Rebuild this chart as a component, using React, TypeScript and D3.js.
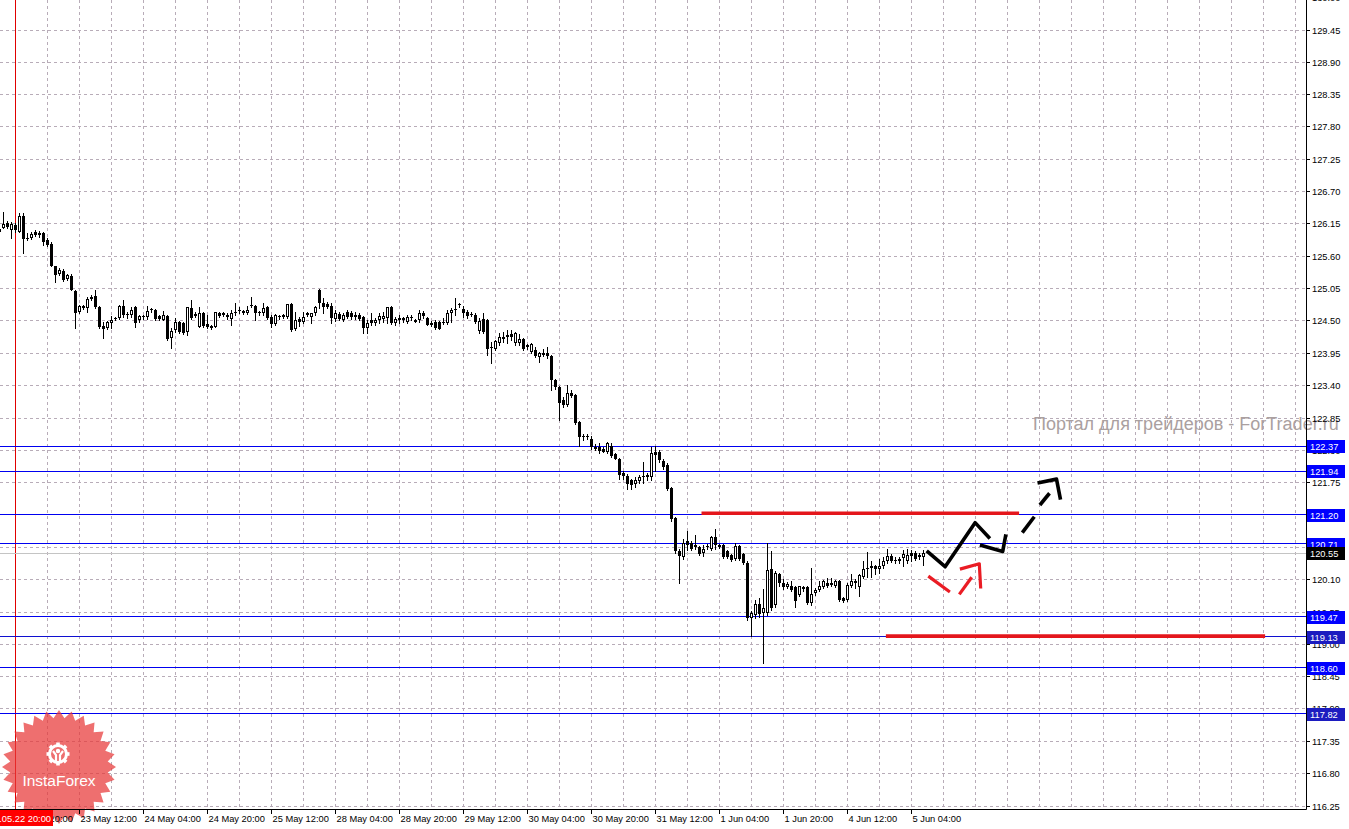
import React from "react";
import * as d3 from "d3";

// ---------- DATA (H1 candles, bar index 0 = first visible bar) ----------
const opens = [
126.07,126.09,126.17,126.05,126.13,126.02,126.29,125.92,125.91,126.01,
126.00,125.99,125.88,125.81,125.43,125.30,125.35,125.21,125.27,125.01,
124.66,124.75,124.72,124.87,124.93,124.74,124.41,124.38,124.47,124.55,
124.55,124.76,124.62,124.60,124.73,124.52,124.59,124.56,124.70,124.68,
124.59,124.52,124.59,124.21,124.35,124.48,124.46,124.32,124.72,124.62,
124.40,124.64,124.45,124.42,124.40,124.63,124.63,124.61,124.54,124.65,
124.69,124.67,124.64,124.77,124.76,124.65,124.63,124.74,124.56,124.45,
124.59,124.60,124.56,124.79,124.36,124.53,124.49,124.63,124.57,124.63,
125.03,124.81,124.79,124.76,124.53,124.62,124.52,124.65,124.63,124.61,
124.61,124.56,124.38,124.51,124.46,124.52,124.54,124.55,124.73,124.46,
124.55,124.55,124.49,124.57,124.52,124.51,124.64,124.55,124.47,124.49,
124.48,124.46,124.46,124.63,124.70,124.79,124.71,124.66,124.62,124.60,
124.33,124.53,124.52,124.06,124.03,124.13,124.20,124.26,124.28,124.12,
124.12,124.20,124.09,123.98,124.01,123.88,123.96,123.95,123.90,123.50,
123.37,123.15,123.07,123.28,123.24,122.79,122.55,122.55,122.50,122.33,
122.35,122.33,122.28,122.38,122.24,122.15,121.92,121.87,121.80,121.73,
121.77,121.86,121.84,121.85,122.28,122.28,122.12,122.05,121.66,121.15,
120.59,120.48,120.75,120.73,120.69,120.66,120.55,120.67,120.63,120.83,
120.69,120.69,120.58,120.52,120.46,120.67,120.54,120.39,119.44,119.50,
119.69,119.53,119.53,120.28,119.67,120.19,120.04,119.98,119.99,119.97,
119.84,119.97,119.97,119.71,119.87,119.92,119.97,120.05,120.04,120.00,
120.07,119.78,119.76,120.00,120.07,119.98,120.15,120.29,120.29,120.33,
120.28,120.33,120.42,120.50,120.44,120.41,120.47,120.41,120.55,120.56,
120.52,120.48];
const highs = [
126.16,126.36,126.20,126.19,126.17,126.33,126.33,125.99,126.02,126.04,
126.03,126.02,125.91,125.85,125.44,125.40,125.38,125.30,125.30,125.02,
124.78,124.78,124.90,124.94,125.02,124.76,124.49,124.50,124.59,124.57,
124.77,124.86,124.66,124.73,124.75,124.61,124.61,124.76,124.72,124.70,
124.61,124.67,124.60,124.38,124.55,124.50,124.48,124.74,124.86,124.65,
124.73,124.66,124.60,124.44,124.66,124.66,124.65,124.63,124.68,124.80,
124.73,124.69,124.76,124.90,124.77,124.67,124.80,124.76,124.61,124.62,
124.61,124.62,124.79,124.80,124.66,124.56,124.66,124.65,124.64,124.75,
125.05,124.89,124.82,124.81,124.69,124.65,124.64,124.68,124.67,124.65,
124.63,124.58,124.51,124.63,124.55,124.64,124.65,124.74,124.75,124.56,
124.61,124.57,124.61,124.60,124.54,124.69,124.67,124.57,124.50,124.51,
124.50,124.55,124.69,124.72,124.89,124.81,124.75,124.68,124.65,124.63,
124.55,124.64,124.54,124.15,124.18,124.29,124.32,124.35,124.35,124.31,
124.28,124.21,124.11,124.13,124.06,123.98,124.03,124.06,123.93,123.52,
123.40,123.20,123.41,123.33,123.25,122.80,122.57,122.58,122.55,122.40,
122.42,122.36,122.44,122.42,122.26,122.17,121.95,121.90,121.82,121.85,
121.88,122.11,121.92,122.36,122.37,122.30,122.15,122.08,121.67,121.16,
120.62,120.80,120.92,120.75,120.86,120.68,120.69,120.70,120.84,120.96,
120.71,120.71,120.60,120.54,120.72,120.69,120.56,120.41,119.57,119.75,
119.78,119.94,120.73,120.58,120.24,120.22,120.11,120.06,120.07,119.99,
120.00,120.00,120.00,120.29,119.96,120.07,120.09,120.12,120.12,120.10,
120.09,119.80,120.05,120.19,120.11,120.19,120.42,120.57,120.41,120.35,
120.46,120.49,120.62,120.53,120.48,120.49,120.60,120.63,120.60,120.59,
120.55,120.60];
const lows = [
125.87,126.08,126.08,125.92,126.02,126.01,125.65,125.88,125.89,125.95,
125.93,125.79,125.77,125.44,125.17,125.28,125.18,125.19,125.02,124.38,
124.64,124.70,124.65,124.86,124.72,124.38,124.21,124.36,124.38,124.51,
124.53,124.57,124.55,124.57,124.39,124.49,124.54,124.54,124.66,124.52,
124.51,124.51,124.18,124.04,124.32,124.29,124.28,124.26,124.53,124.56,
124.39,124.40,124.38,124.36,124.39,124.57,124.58,124.54,124.44,124.60,
124.63,124.62,124.62,124.74,124.51,124.61,124.60,124.53,124.39,124.43,
124.54,124.55,124.55,124.33,124.35,124.42,124.47,124.58,124.47,124.60,
124.72,124.63,124.72,124.47,124.50,124.51,124.50,124.55,124.54,124.53,
124.52,124.29,124.30,124.44,124.43,124.47,124.48,124.46,124.45,124.44,
124.47,124.48,124.46,124.52,124.48,124.49,124.55,124.43,124.41,124.37,
124.36,124.45,124.45,124.49,124.60,124.73,124.57,124.55,124.58,124.47,
124.30,124.30,123.92,123.79,124.01,124.10,124.15,124.12,124.18,124.10,
124.10,124.01,124.02,123.95,123.88,123.81,123.90,123.87,123.33,123.35,
122.82,123.04,123.05,123.20,122.75,122.38,122.48,122.50,122.33,122.30,
122.25,122.27,122.26,122.19,122.15,121.82,121.82,121.64,121.64,121.68,
121.74,121.74,121.80,121.80,121.94,122.10,121.99,121.63,121.10,120.55,
120.05,120.45,120.60,120.60,120.62,120.52,120.50,120.62,120.60,120.62,
120.64,120.47,120.47,120.42,120.44,120.44,120.37,119.42,119.14,119.44,
119.46,118.69,119.50,119.58,119.64,120.00,119.94,119.95,119.90,119.63,
119.82,119.90,119.69,119.67,119.84,119.90,119.95,119.97,119.99,119.98,
119.74,119.72,119.74,119.98,119.95,119.82,120.13,120.15,120.15,120.19,
120.22,120.29,120.38,120.40,120.38,120.38,120.33,120.39,120.41,120.43,
120.45,120.35];
const closes = [
126.02,126.15,126.10,126.15,126.04,126.29,125.89,125.90,125.98,125.97,
125.96,125.85,125.80,125.44,125.28,125.37,125.20,125.28,125.02,124.64,
124.76,124.72,124.87,124.91,124.73,124.40,124.36,124.48,124.52,124.53,
124.75,124.60,124.61,124.68,124.47,124.59,124.56,124.67,124.68,124.54,
124.53,124.60,124.19,124.33,124.49,124.31,124.30,124.73,124.55,124.59,
124.63,124.42,124.39,124.38,124.65,124.59,124.60,124.56,124.63,124.63,
124.68,124.64,124.69,124.76,124.64,124.63,124.72,124.55,124.45,124.60,
124.56,124.57,124.79,124.35,124.52,124.49,124.57,124.60,124.63,124.73,
124.80,124.74,124.74,124.55,124.63,124.53,124.60,124.57,124.57,124.57,
124.54,124.38,124.46,124.46,124.52,124.59,124.58,124.73,124.47,124.53,
124.51,124.51,124.57,124.55,124.49,124.63,124.58,124.44,124.43,124.38,
124.37,124.49,124.63,124.69,124.69,124.77,124.63,124.59,124.60,124.49,
124.50,124.32,124.03,124.04,124.16,124.22,124.23,124.22,124.23,124.29,
124.20,124.03,124.05,124.11,123.90,123.96,123.92,123.90,123.50,123.37,
123.10,123.07,123.27,123.23,122.76,122.52,122.52,122.53,122.36,122.36,
122.29,122.28,122.42,122.21,122.16,121.88,121.86,121.73,121.71,121.80,
121.85,121.84,121.88,122.26,122.22,122.14,122.01,121.65,121.14,120.58,
120.50,120.72,120.69,120.62,120.65,120.54,120.62,120.65,120.83,120.69,
120.66,120.49,120.49,120.44,120.67,120.46,120.39,119.44,119.54,119.69,
119.51,119.61,120.27,119.61,120.21,120.04,119.97,120.03,119.92,119.74,
119.99,119.94,119.71,119.86,119.93,119.99,120.07,120.00,120.01,120.07,
119.76,119.74,120.01,120.07,120.05,120.18,120.28,120.28,120.33,120.28,
120.33,120.42,120.50,120.42,120.41,120.46,120.53,120.52,120.50,120.46,
120.49,120.55];

const priceTicks = ["116.25","116.80","117.35","117.90","118.45","119.00","119.55","120.10","120.65","121.20","121.75","122.30","122.85","123.40","123.95","124.50","125.05","125.60","126.15","126.70","127.25","127.80","128.35","128.90","129.45","130.00"];
const timeLabels = ["22 May 20:00","23 May 12:00","24 May 04:00","24 May 20:00","25 May 12:00","28 May 04:00","28 May 20:00","29 May 12:00","30 May 04:00","30 May 20:00","31 May 12:00","1 Jun 04:00","1 Jun 20:00","4 Jun 12:00","5 Jun 04:00"];
const timeLabelBars = [4,20,36,52,68,84,100,116,132,148,164,180,196,212,228];

const levelPrices = [122.37,121.94,121.20,120.71,119.47,119.13,118.60,117.82];
const levelBoxColors = ["#0000ff","#0000ff","#0000ff","#0000ff","#0000ff","#1c1cc0","#0000ff","#1c1cc0"];
const bidPrice = 120.55;

// hand-drawn annotations, as [bar index, price]
const redLevels = [ { from: 175.5, to: 254.9, price: 121.23 }, { from: 221.6, to: 316.4, price: 119.14 } ];
const blackStrokes = [
  [[231.8,120.59],[236.4,120.32],[243.9,121.07],[247.6,120.80]],
  [[245.1,120.69],[250.8,120.58],[251.6,120.87]],
  [[255.7,120.90],[258.7,121.17]],
  [[260.1,121.37],[262.5,121.57]],
  [[259.5,121.745],[264.25,121.81],[265.25,121.46]],
];
const redStrokes = [
  [[232.2,120.16],[237.6,119.89]],
  [[239.95,119.85],[243.05,120.14]],
  [[240.1,120.28],[244.95,120.37],[245.3,119.95]],
];

const W = 1349, H = 829;
const PR = 1306, PB = 809;

function Logo() {
  const cx = 59, cy = 767, n = 28, ro = 57, ri = 49;
  const pts: string[] = [];
  for (let k = 0; k < n * 2; k++) {
    const a = (Math.PI * k) / n - Math.PI / 2;
    const r = k % 2 === 0 ? ro : ri;
    pts.push(`${cx + r * Math.cos(a)},${cy + r * Math.sin(a)}`);
  }
  const gx = 58, gy = 754;
  const teeth: JSX.Element[] = [];
  for (let k = 0; k < 8; k++) {
    const a = (k * 45 * Math.PI) / 180;
    teeth.push(<rect key={k} x={gx - 1.8} y={gy - 11.5} width={3.6} height={4} fill="#fff" transform={`rotate(${k * 45} ${gx} ${gy})`} />);
  }
  return (
    <g>
      <polygon points={pts.join(" ")} fill="rgb(232,56,56)" opacity={0.72} />
      <g>
        {teeth}
        <circle cx={gx} cy={gy} r={8.5} fill="none" stroke="#fff" strokeWidth={3} />
        <circle cx={gx} cy={gy - 3} r={2.2} fill="#fff" />
        <path d={`M${gx - 5},${gy - 3} L${gx - 2},${gy + 1} L${gx - 2},${gy + 9} M${gx + 5},${gy - 3} L${gx + 2},${gy + 1} L${gx + 2},${gy + 9}`} stroke="#fff" strokeWidth={2.2} fill="none" />
      </g>
      <text x={cx} y={786} textAnchor="middle" fontFamily="Liberation Sans, Arial, sans-serif" fontSize={15.5} fill="#fff">InstaForex</text>
    </g>
  );
}

export default function App() {
  const y = d3.scaleLinear().domain([116.25, 129.45]).range([806, 30]);
  const x = d3.scaleLinear().domain([0, 1]).range([-0.5, 3.5]);
  const crisp = (v: number) => Math.floor(v) + 0.5;
  const line = d3.line<number[]>().x(d => x(d[0])).y(d => y(d[1]));

  const vGrid = d3.range(4, 330, 8).filter(b => x(b) < PR);
  const font = "Liberation Sans, Arial, sans-serif";

  return (
    <svg width={W} height={H} style={{ position: "absolute", left: 0, top: 0, background: "#fff" }}>
      <rect x={0} y={0} width={W} height={H} fill="#fff" />
      {/* grid */}
      <g stroke="#b8acb8" strokeWidth={1} strokeDasharray="3,3">
        {priceTicks.map(t => {
          const yy = crisp(y(+t));
          return yy > 0 && yy < PB ? <line key={t} x1={0} x2={PR} y1={yy} y2={yy} /> : null;
        })}
        {vGrid.map(b => <line key={b} x1={x(b)} x2={x(b)} y1={0} y2={PB} />)}
      </g>
      {/* period separator */}
      <line x1={x(4)} x2={x(4)} y1={0} y2={PB} stroke="#e00000" strokeWidth={1} />
      {/* bid line */}
      <line x1={0} x2={PR} y1={crisp(y(bidPrice))} y2={crisp(y(bidPrice))} stroke="#c4c4c4" strokeWidth={1} />
      {/* levels */}
      {levelPrices.map((p, k) => (
        <line key={p} x1={0} x2={PR} y1={crisp(y(p))} y2={crisp(y(p))} stroke={k === 5 ? "#1010d0" : "#0000f0"} strokeWidth={1} />
      ))}
      {/* candles */}
      <g>
        {opens.map((o, i) => {
          const c = closes[i], h = highs[i], l = lows[i];
          const cx = x(i);
          const yo = Math.round(y(o)), yc = Math.round(y(c));
          const yh = Math.round(y(h)), yl = Math.round(y(l));
          const bull = c > o;
          return (
            <g key={i}>
              <line x1={cx} x2={cx} y1={yh} y2={yl + 1} stroke="#000" strokeWidth={1} />
              {bull ? (
                yo - yc >= 2 ? (
                  <rect x={cx - 1} y={yc + 0.5} width={2} height={yo - yc - 1} fill="#fff" stroke="#000" strokeWidth={1} />
                ) : (
                  <rect x={cx - 1.5} y={yc} width={3} height={Math.max(1, yo - yc)} fill="#000" />
                )
              ) : (
                <rect x={cx - 1.5} y={yo} width={3} height={Math.max(1, yc - yo)} fill="#000" />
              )}
            </g>
          );
        })}
      </g>
      {/* annotations */}
      {redLevels.map((r, k) => (
        <line key={k} x1={x(r.from)} x2={x(r.to)} y1={y(r.price)} y2={y(r.price)} stroke="#e4161c" strokeWidth={3.6} />
      ))}
      {blackStrokes.map((s, k) => (
        <path key={k} d={line(s) || ""} fill="none" stroke="#000" strokeWidth={3.6} strokeLinejoin="round" strokeLinecap="butt" />
      ))}
      {redStrokes.map((s, k) => (
        <path key={k} d={line(s) || ""} fill="none" stroke="#ea1c24" strokeWidth={3.2} strokeLinejoin="round" strokeLinecap="butt" />
      ))}
      {/* watermark */}
      <text x={1033} y={430} fontFamily={font} fontSize={18} fill="#aaa0a0">Портал для трейдеров - ForTrader.ru</text>
      {/* logo */}
      <Logo />
      {/* axes */}
      <rect x={PR + 0.5} y={0} width={W} height={PB} fill="none" />
      <line x1={PR + 0.5} x2={PR + 0.5} y1={0} y2={PB + 0.5} stroke="#000" strokeWidth={1} />
      <line x1={0} x2={PR + 0.5} y1={PB + 0.5} y2={PB + 0.5} stroke="#000" strokeWidth={1} />
      {priceTicks.map(t => {
        const yy = crisp(y(+t));
        return (
          <g key={t}>
            <line x1={PR} x2={PR + 4} y1={yy} y2={yy} stroke="#000" strokeWidth={1} />
            <text x={1312} y={yy + 3.5} fontFamily={font} fontSize={9.3} fill="#000">{t}</text>
          </g>
        );
      })}
      {timeLabels.map((t, k) => {
        const xx = x(timeLabelBars[k]);
        return (
          <g key={t}>
            <line x1={xx} x2={xx} y1={PB} y2={PB + 5} stroke="#000" strokeWidth={1} />
            <text x={xx + 1} y={822} fontFamily={font} fontSize={9.3} fill="#000">{t}</text>
          </g>
        );
      })}
      {/* price boxes */}
      {levelPrices.map((p, k) => {
        const yy = Math.round(y(p));
        return (
          <g key={p}>
            <rect x={1307} y={yy - 6} width={38} height={13} fill={levelBoxColors[k]} />
            <text x={1310} y={yy + 4} fontFamily={font} fontSize={9.3} fill="#fff">{p.toFixed(2)}</text>
          </g>
        );
      })}
      {(() => {
        const yy = Math.round(y(bidPrice));
        return (
          <g>
            <rect x={1307} y={yy - 6} width={38} height={13} fill="#000" />
            <text x={1310} y={yy + 4} fontFamily={font} fontSize={9.3} fill="#fff">{bidPrice.toFixed(2)}</text>
          </g>
        );
      })()}
      {/* date box */}
      <rect x={0} y={810} width={53} height={16} fill="#ff0000" />
      <text x={51} y={822} textAnchor="end" fontFamily={font} fontSize={9.3} fill="#fff">2018.05.22 20:00</text>
    </svg>
  );
}
